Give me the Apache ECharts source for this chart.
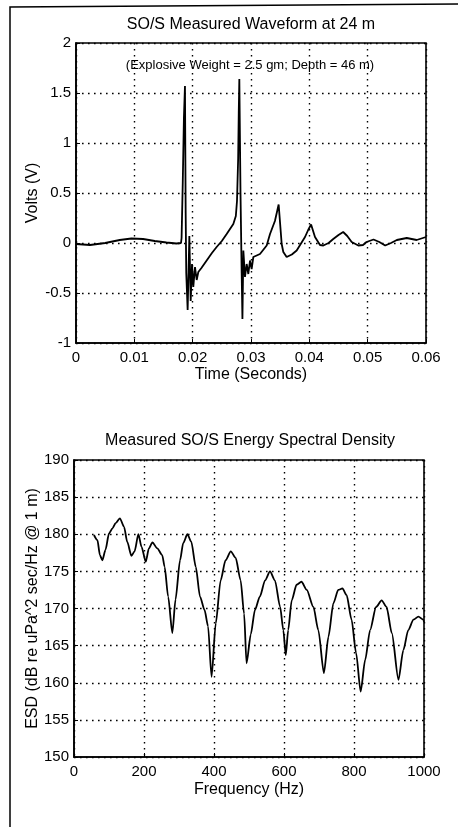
<!DOCTYPE html>
<html><head><meta charset="utf-8">
<script src="https://cdn.jsdelivr.net/npm/echarts@6/dist/echarts.min.js"></script>
<style>html,body{margin:0;padding:0;background:#fff}#c{width:458px;height:827px}</style>
</head><body><div id="c"></div>
<script>
// ---- Waveform (top panel) ----
const timeS = [0,0.0024,0.005,0.0075,0.0095,0.0115,0.0135,0.0155,0.0172,0.0180,0.0181,0.0183,0.0185,0.01868,0.0188,0.0189,0.01914,0.01943,0.01966,0.01989,0.02011,0.0204,0.02069,0.02097,0.0215,0.0224,0.0233,0.02411,0.025,0.02583,0.02697,0.0274,0.0276,0.0278,0.0279,0.0280,0.0282,0.0284,0.02853,0.02869,0.02897,0.02926,0.02954,0.02983,0.03011,0.0304,0.03154,0.03269,0.03326,0.0341,0.03474,0.03526,0.03554,0.03611,0.0370,0.03783,0.03926,0.0398,0.0403,0.04097,0.04183,0.0424,0.0433,0.0441,0.0450,0.0458,0.0465,0.04726,0.0484,0.0492,0.0498,0.0510,0.0520,0.0530,0.0540,0.0550,0.0567,0.0584,0.06];
const volts = [-0.01,-0.02,0.0,0.03,0.045,0.04,0.02,0.005,-0.005,0.0,0.05,0.6,1.25,1.57,0.3,-0.3,-0.67,0.07,-0.58,-0.21,-0.44,-0.24,-0.37,-0.29,-0.25,-0.175,-0.1,-0.04,0.02,0.09,0.19,0.27,0.42,0.85,1.3,1.64,0.5,-0.3,-0.76,-0.075,-0.34,-0.21,-0.31,-0.175,-0.26,-0.14,-0.11,-0.025,0.09,0.22,0.385,-0.01,-0.09,-0.14,-0.115,-0.075,0.06,0.13,0.185,0.06,-0.02,-0.025,0.0,0.04,0.08,0.11,0.07,0.01,-0.025,-0.02,0.01,0.035,0.01,-0.025,0.0,0.03,0.05,0.03,0.06];
const timeTicks = ['0','0.01','0.02','0.03','0.04','0.05','0.06'];
const voltTicks = ['-1','-0.5','0','0.5','1','1.5','2'];

// ---- Energy spectral density (bottom panel) ----
const freqHz = [57,67,74,81,90,100,110,119,131,143,152,164,173,184,193,205,214,224,238,252,259,269,281,290,303,312,324,335,348,360,373,383,393,405,419,433,448,462,476,486,493,505,517,531,546,560,574,589,598,605,612,622,636,650,665,684,698,714,727,741,755,767,779,793,806,819,832,846,863,879,893,908,927,941,955,970,984,998,1000];
const esdDb = [179.9,179.2,177.2,176.5,177.9,180.1,180.8,181.5,182.15,181.0,179.0,177.1,177.7,180.0,178.3,176.3,178.1,178.9,178.1,177.2,175.6,171.6,166.7,171.2,176.5,178.8,180.0,179.0,175.6,171.6,169.8,167.6,160.8,168.0,173.8,176.5,177.7,176.8,173.8,169.3,162.6,166.5,169.8,171.6,173.8,175.0,173.8,170.2,167.1,163.7,167.1,171.1,173.2,173.6,172.5,170.2,167.1,161.3,166.2,170.7,172.5,172.7,171.8,168.5,164.0,158.8,163.1,167.1,170.2,171.1,170.2,166.7,160.4,164.4,167.1,168.5,168.9,168.5,168.2];
const freqTicks = ['0','200','400','600','800','1000'];
const esdTicks = ['150','155','160','165','170','175','180','185','190'];

const FONT = 'Liberation Sans, Arial, sans-serif';
const chart = echarts.init(document.getElementById('c'), null, {renderer: 'canvas'});

function axisCommon(ticks, margin) {
  return {
    axisLine: {show: true, onZero: false, lineStyle: {color: '#000', width: 1.6}},
    axisTick: {show: true, inside: true, length: 4, lineStyle: {color: '#000'}},
    splitLine: {show: true, lineStyle: {color: '#000', type: [1.6, 4.4], width: 1.4}},
    axisLabel: {color: '#000', fontSize: 15, fontFamily: FONT, margin: margin, formatter: (v, i) => ticks[i]},
    nameTextStyle: {color: '#000', fontSize: 16, fontFamily: FONT},
    nameMoveOverlap: false
  };
}

const option = {
  backgroundColor: '#fff',
  animation: false,
  grid: [
    {left: 76, top: 43, width: 350, height: 300, show: true, borderColor: '#000', borderWidth: 1.6, backgroundColor: 'transparent'},
    {left: 74, top: 460, width: 350, height: 297, show: true, borderColor: '#000', borderWidth: 1.6, backgroundColor: 'transparent'}
  ],
  xAxis: [
    Object.assign(axisCommon(timeTicks, 7), {gridIndex: 0, type: 'value', min: 0, max: 0.06, interval: 0.01,
      name: 'Time (Seconds)', nameLocation: 'middle', nameGap: 24}),
    Object.assign(axisCommon(freqTicks, 7), {gridIndex: 1, type: 'value', min: 0, max: 1000, interval: 200,
      name: 'Frequency (Hz)', nameLocation: 'middle', nameGap: 25})
  ],
  yAxis: [
    Object.assign(axisCommon(voltTicks, 5), {gridIndex: 0, type: 'value', min: -1, max: 2, interval: 0.5,
      name: 'Volts (V)', nameLocation: 'middle', nameGap: 35}),
    Object.assign(axisCommon(esdTicks, 5), {gridIndex: 1, type: 'value', min: 150, max: 190, interval: 5,
      name: 'ESD (dB re uPa^2 sec/Hz @ 1 m)', nameLocation: 'middle', nameGap: 33})
  ],
  series: [
    {type: 'line', xAxisIndex: 0, yAxisIndex: 0, showSymbol: false, symbol: 'none',
      lineStyle: {color: '#000', width: 1.8}, data: timeS.map((t, i) => [t, volts[i]])},
    {type: 'line', xAxisIndex: 1, yAxisIndex: 1, showSymbol: false, symbol: 'none',
      smooth: 0.25, smoothMonotone: 'x',
      lineStyle: {color: '#000', width: 1.8}, data: freqHz.map((f, i) => [f, esdDb[i]])}
  ],
  graphic: [
    {type: 'polyline', shape: {points: [[10, 827], [10, 7], [458, 4]]}, style: {stroke: '#000', lineWidth: 1.5, fill: null}},
    {type: 'text', x: 251, y: 25, style: {text: 'SO/S Measured Waveform at 24 m', font: '16px ' + FONT, fill: '#000', textAlign: 'center', textVerticalAlign: 'middle'}},
    {type: 'text', x: 250, y: 65, style: {text: '(Explosive Weight = 2.5 gm; Depth = 46 m)', font: '13px ' + FONT, fill: '#000', textAlign: 'center', textVerticalAlign: 'middle'}},
    {type: 'text', x: 250, y: 441, style: {text: 'Measured SO/S Energy Spectral Density', font: '16px ' + FONT, fill: '#000', textAlign: 'center', textVerticalAlign: 'middle'}}
  ]
};
chart.setOption(option);
</script>
</body></html>
